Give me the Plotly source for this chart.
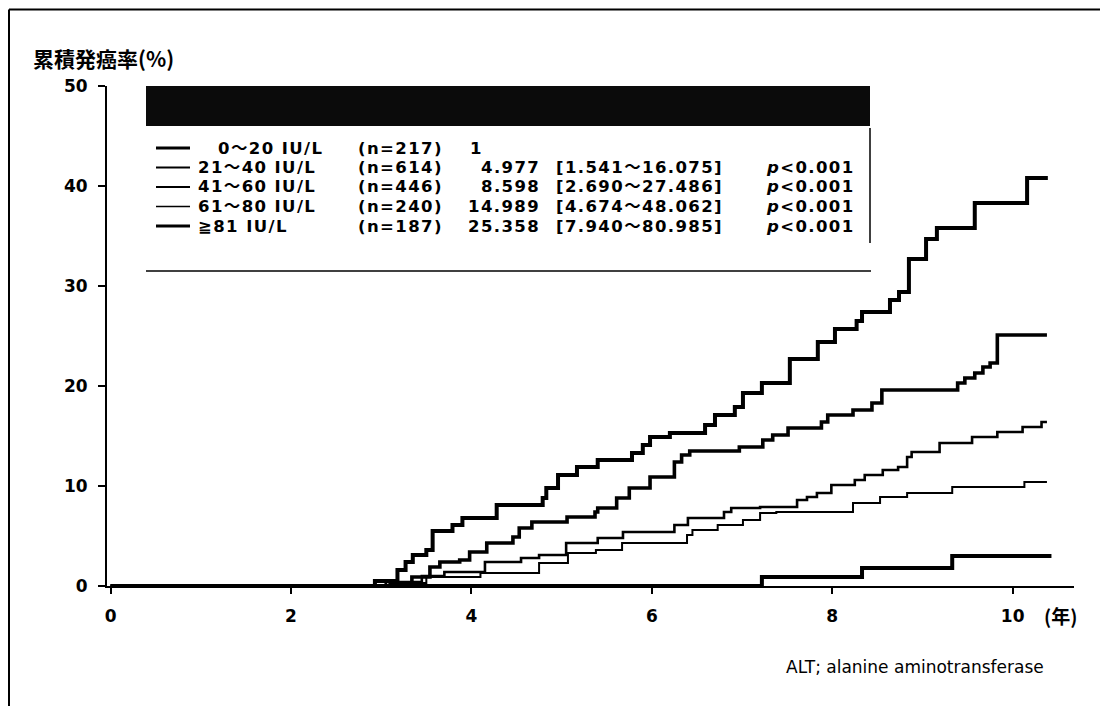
import plotly.graph_objects as go

# ---------------- data ----------------
groups = ["0～20 IU/L", "21～40 IU/L", "41～60 IU/L", "61～80 IU/L", "≧81 IU/L"]
n_labels = ["(n=217)", "(n=614)", "(n=446)", "(n=240)", "(n=187)"]
hr_labels = ["1", "4.977", "8.598", "14.989", "25.358"]
ci_labels = ["", "[1.541～16.075]", "[2.690～27.486]", "[4.674～48.062]", "[7.940～80.985]"]
p_labels = ["", "<i>p</i>&lt;0.001", "<i>p</i>&lt;0.001", "<i>p</i>&lt;0.001", "<i>p</i>&lt;0.001"]

t_0_20 = [0, 7.22, 8.33, 9.33, 10.43]
v_0_20 = [0, 0.9, 1.8, 3.0, 3.0]

t_21_40 = [0, 3.20, 3.50, 4.10, 4.75, 5.07, 5.38, 5.67, 6.39, 6.45, 6.73, 7.01, 7.20,
           7.38, 8.23, 8.53, 8.83, 9.33, 10.13, 10.38]
v_21_40 = [0, 0.3, 0.9, 1.3, 2.3, 3.3, 3.6, 4.3, 5.1, 5.6, 6.1, 6.6, 7.3,
           7.4, 8.3, 8.9, 9.3, 9.9, 10.4, 10.4]

t_41_60 = [0, 3.05, 3.45, 3.70, 4.15, 4.55, 4.75, 5.05, 5.40, 5.68, 6.25, 6.40, 6.80,
           6.88, 7.20, 7.61, 7.72, 7.83, 7.99, 8.25, 8.36, 8.56, 8.73, 8.83, 8.88,
           9.19, 9.55, 9.83, 10.11, 10.32, 10.38]
v_41_60 = [0, 0.4, 1.0, 1.4, 2.4, 2.8, 3.1, 4.3, 4.8, 5.4, 6.1, 6.8, 7.4,
           7.8, 7.9, 8.6, 8.9, 9.3, 10.1, 10.6, 11.1, 11.6, 11.9, 12.9, 13.4,
           14.3, 14.9, 15.4, 15.9, 16.4, 16.4]

t_61_80 = [0, 3.10, 3.34, 3.54, 3.65, 3.87, 3.98, 4.17, 4.46, 4.53, 4.67, 5.06, 5.37,
           5.40, 5.61, 5.75, 5.98, 6.25, 6.33, 6.42, 6.97, 7.23, 7.34, 7.51, 7.88,
           7.95, 8.23, 8.44, 8.55, 9.39, 9.47, 9.58, 9.67, 9.75, 9.83, 10.38]
v_61_80 = [0, 0.3, 0.9, 1.9, 2.4, 2.6, 3.4, 4.3, 4.9, 5.8, 6.4, 6.9, 7.4,
           7.8, 8.8, 9.8, 10.9, 12.4, 13.1, 13.5, 13.9, 14.6, 15.1, 15.8, 16.4,
           17.1, 17.6, 18.3, 19.6, 20.3, 20.8, 21.3, 21.9, 22.3, 25.1, 25.1]

t_ge81 = [0, 2.93, 3.18, 3.27, 3.35, 3.50, 3.57, 3.79, 3.90, 4.28, 4.79, 4.83, 4.96,
          5.17, 5.40, 5.78, 5.90, 5.98, 6.20, 6.59, 6.70, 6.92, 7.01, 7.22, 7.53,
          7.84, 8.03, 8.27, 8.33, 8.64, 8.74, 8.85, 9.04, 9.16, 9.58, 10.16, 10.39]
v_ge81 = [0, 0.5, 1.6, 2.4, 3.1, 3.6, 5.5, 6.1, 6.8, 8.1, 8.8, 9.8, 11.1,
          11.9, 12.6, 13.3, 14.1, 14.9, 15.3, 16.1, 17.1, 17.9, 19.3, 20.3, 22.7,
          24.4, 25.7, 26.5, 27.4, 28.6, 29.4, 32.7, 34.7, 35.8, 38.3, 40.8, 40.8]

x_ticks = [0, 2, 4, 6, 8, 10]
y_ticks = [0, 10, 20, 30, 40, 50]

# ---------------- figure ----------------
OFF = 8  # page body margin: figure starts 8px from window edge
W, H = 1100, 698
L, R, T = 107 - OFF, 34, 86 - OFF
PLOT_BOTTOM = 586 - OFF
B = H - PLOT_BOTTOM
PW, PH = W - L - R, H - T - B


def px(x):  # screen pixel -> paper
    return (x - OFF - L) / PW


def py(y):
    return (PLOT_BOTTOM - (y - OFF)) / PH


FONT = "DejaVu Sans, Noto Sans CJK JP, sans-serif"
CJK = "Noto Sans CJK JP, sans-serif"
SP = '<span style="letter-spacing:1.4px">{}</span>'

fig = go.Figure()
series = [
    (t_0_20, v_0_20, 4),
    (t_21_40, v_21_40, 2),
    (t_41_60, v_41_60, 2.6),
    (t_61_80, v_61_80, 3.6),
    (t_ge81, v_ge81, 4),
]
for (tt, vv, w), name in zip(series, groups):
    fig.add_trace(go.Scatter(x=tt, y=vv, mode="lines", line=dict(shape="hv", color="black", width=w),
                             name=name, showlegend=False, hoverinfo="skip"))

shapes = []
annotations = []

# outer frame (top and left)
shapes.append(dict(type="line", xref="paper", yref="paper", x0=px(9), x1=px(1108), y0=py(9.5), y1=py(9.5),
                   line=dict(color="black", width=2)))
shapes.append(dict(type="line", xref="paper", yref="paper", x0=px(9), x1=px(9), y0=py(9.5), y1=py(706),
                   line=dict(color="black", width=2)))

# legend table
shapes.append(dict(type="rect", xref="paper", yref="paper", x0=px(146), x1=px(870), y0=py(126), y1=py(86),
                   fillcolor="#0b0b0b", line=dict(width=0)))
shapes.append(dict(type="line", xref="paper", yref="paper", x0=px(870), x1=px(870), y0=py(128), y1=py(243),
                   line=dict(color="black", width=1.5)))
shapes.append(dict(type="line", xref="paper", yref="paper", x0=px(146), x1=px(871), y0=py(271), y1=py(271),
                   line=dict(color="black", width=1.5)))

row_y = [148, 167.5, 187, 206.5, 226]
sample_w = [3, 2.2, 2, 1.6, 3]
for i in range(5):
    y = row_y[i]
    shapes.append(dict(type="line", xref="paper", yref="paper", x0=px(156), x1=px(190), y0=py(y), y1=py(y),
                       line=dict(color="black", width=sample_w[i])))
    gx = 216 if i == 0 else 196
    annotations.append(dict(x=px(gx), y=py(y), text=SP.format(groups[i]), xanchor="left"))
    annotations.append(dict(x=px(356), y=py(y), text=SP.format(n_labels[i]), xanchor="left"))
    if i == 0:
        annotations.append(dict(x=px(468), y=py(y), text=SP.format(hr_labels[i]), xanchor="left"))
    else:
        annotations.append(dict(x=px(542), y=py(y), text=SP.format(hr_labels[i]), xanchor="right"))
    if ci_labels[i]:
        annotations.append(dict(x=px(554), y=py(y), text=SP.format(ci_labels[i]), xanchor="left"))
        annotations.append(dict(x=px(764), y=py(y), text=SP.format(p_labels[i]), xanchor="left"))

for a in annotations:
    a.update(xref="paper", yref="paper", yanchor="middle", showarrow=False,
             font=dict(family=FONT, size=16.5, color="black", weight="bold"))

# title, unit and footnote
annotations.append(dict(x=px(31), y=py(58), xref="paper", yref="paper", text="<b>累積発癌率(%)</b>",
                        xanchor="left", yanchor="middle", showarrow=False,
                        font=dict(family=CJK, size=21, color="black")))
annotations.append(dict(x=px(1042), y=py(615), xref="paper", yref="paper", text="<b>(年)</b>",
                        xanchor="left", yanchor="middle", showarrow=False,
                        font=dict(family=CJK, size=19, color="black")))
annotations.append(dict(x=px(1046), y=py(667), xref="paper", yref="paper",
                        text="ALT; alanine aminotransferase",
                        xanchor="right", yanchor="middle", showarrow=False,
                        font=dict(family=FONT, size=17, color="black")))

TICKFONT = dict(family=FONT, size=17, color="black", weight="bold")
fig.update_layout(
    width=W, height=H,
    margin=dict(l=L, r=R, t=T, b=B),
    paper_bgcolor="white", plot_bgcolor="white",
    shapes=shapes, annotations=annotations,
    showlegend=False,
    xaxis=dict(range=[-0.04, 10.68], tickvals=x_ticks, ticktext=[str(v) for v in x_ticks],
               showgrid=False, zeroline=False, showline=True, linecolor="black", linewidth=2,
               ticks="outside", ticklen=6, tickwidth=2, tickcolor="black",
               tickfont=TICKFONT, ticklabelstandoff=8),
    yaxis=dict(range=[0, 50], tickvals=y_ticks, ticktext=[str(v) for v in y_ticks],
               showgrid=False, zeroline=False, showline=True, linecolor="black", linewidth=2,
               ticks="outside", ticklen=7, tickwidth=2, tickcolor="black",
               tickfont=TICKFONT, ticklabelstandoff=7),
)

fig.write_html("out.html")
